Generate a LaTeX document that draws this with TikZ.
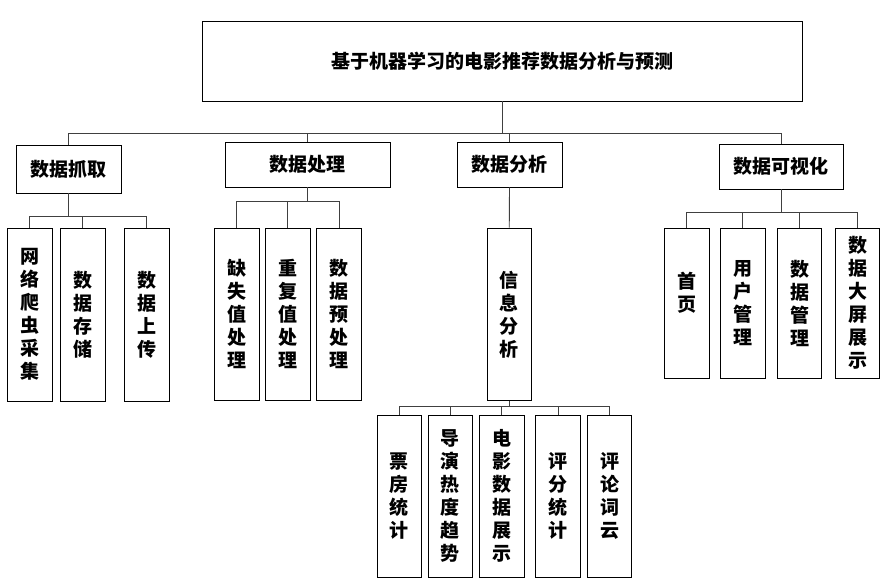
\documentclass[tikz,border=0pt]{standalone}
\usepackage{fontspec}
\newfontfamily\cjk{Noto Sans CJK SC}
\begin{document}
\begin{tikzpicture}[x=1pt,y=-1pt,
  box/.style={draw=black,line width=0.9pt,inner sep=0pt,align=center,
    font=\cjk\bfseries\fontsize{19}{23}\selectfont},
  vbox/.style={box,minimum width=44.5pt},
  conn/.style={draw=black!75,line width=0.9pt}]
\useasboundingbox[fill=white] (0,0) rectangle (890,587);
% root
\node[box,minimum width=600pt,minimum height=79.5pt] (root) at (502,61.25) {基于机器学习的电影推荐数据分析与预测};
% level 1
\node[box,minimum width=105pt,minimum height=48pt] (a) at (68.5,169) {数据抓取};
\node[box,minimum width=165pt,minimum height=45pt] (b) at (307.5,164.5) {数据处理};
\node[box,minimum width=105pt,minimum height=45pt] (c) at (509.5,164.5) {数据分析};
\node[box,minimum width=124pt,minimum height=45pt] (d) at (781,166.5) {数据可视化};
% level 2
\node[vbox,minimum height=173pt] (a1) at (29.75,314.5) {网\\络\\爬\\虫\\采\\集};
\node[vbox,minimum height=173pt] (a2) at (82.75,314.5) {数\\据\\存\\储};
\node[vbox,minimum height=173pt] (a3) at (146.75,314.5) {数\\据\\上\\传};
\node[vbox,minimum height=172.5pt] (b1) at (236.75,314.25) {缺\\失\\值\\处\\理};
\node[vbox,minimum height=172.5pt] (b2) at (287.75,314.25) {重\\复\\值\\处\\理};
\node[vbox,minimum height=172.5pt] (b3) at (339,314.25) {数\\据\\预\\处\\理};
\node[vbox,minimum height=172.5pt] (c1) at (509.25,314.25) {信\\息\\分\\析};
\node[vbox,minimum height=150pt] (d1) at (686.85,303) {首\\页\\\mbox{}};
\node[vbox,minimum height=150pt] (d2) at (742.85,303) {用\\户\\管\\理};
\node[vbox,minimum height=150pt] (d3) at (799.65,303) {数\\据\\管\\理};
\node[vbox,minimum height=150pt] (d4) at (857.5,303) {数\\据\\大\\屏\\展\\示};
% level 3
\node[vbox,minimum height=162pt] (e1) at (399.2,496) {票\\房\\统\\计};
\node[vbox,minimum height=162pt] (e2) at (450.4,496) {导\\演\\热\\度\\趋\\势};
\node[vbox,minimum height=162pt] (e3) at (501.8,496) {电\\影\\数\\据\\展\\示};
\node[vbox,minimum height=162pt] (e4) at (558,496) {评\\分\\统\\计};
\node[vbox,minimum height=162pt] (e5) at (609.5,496) {评\\论\\词\\云};
% bus levels
\coordinate (y0) at (0,133);
\coordinate (ya) at (0,216);
\coordinate (yb) at (0,201.5);
\coordinate (yd) at (0,212);
\coordinate (ye) at (0,406);
% connectors
\foreach \t in {a,b,c,d}
  \draw[conn] (root.south) -- (root.south |- y0) -| (\t.north);
\foreach \t in {a1,a2,a3}
  \draw[conn] (a.south) -- (a.south |- ya) -| (\t.north);
\foreach \t in {b1,b2,b3}
  \draw[conn] (b.south) -- (b.south |- yb) -| (\t.north);
\draw[conn] (c.south) -- (c1.north);
\foreach \t in {d1,d2,d3,d4}
  \draw[conn] (d.south) -- (d.south |- yd) -| (\t.north);
\foreach \t in {e1,e2,e3,e4,e5}
  \draw[conn] (c1.south) -- (c1.south |- ye) -| (\t.north);
\end{tikzpicture}
\end{document}
